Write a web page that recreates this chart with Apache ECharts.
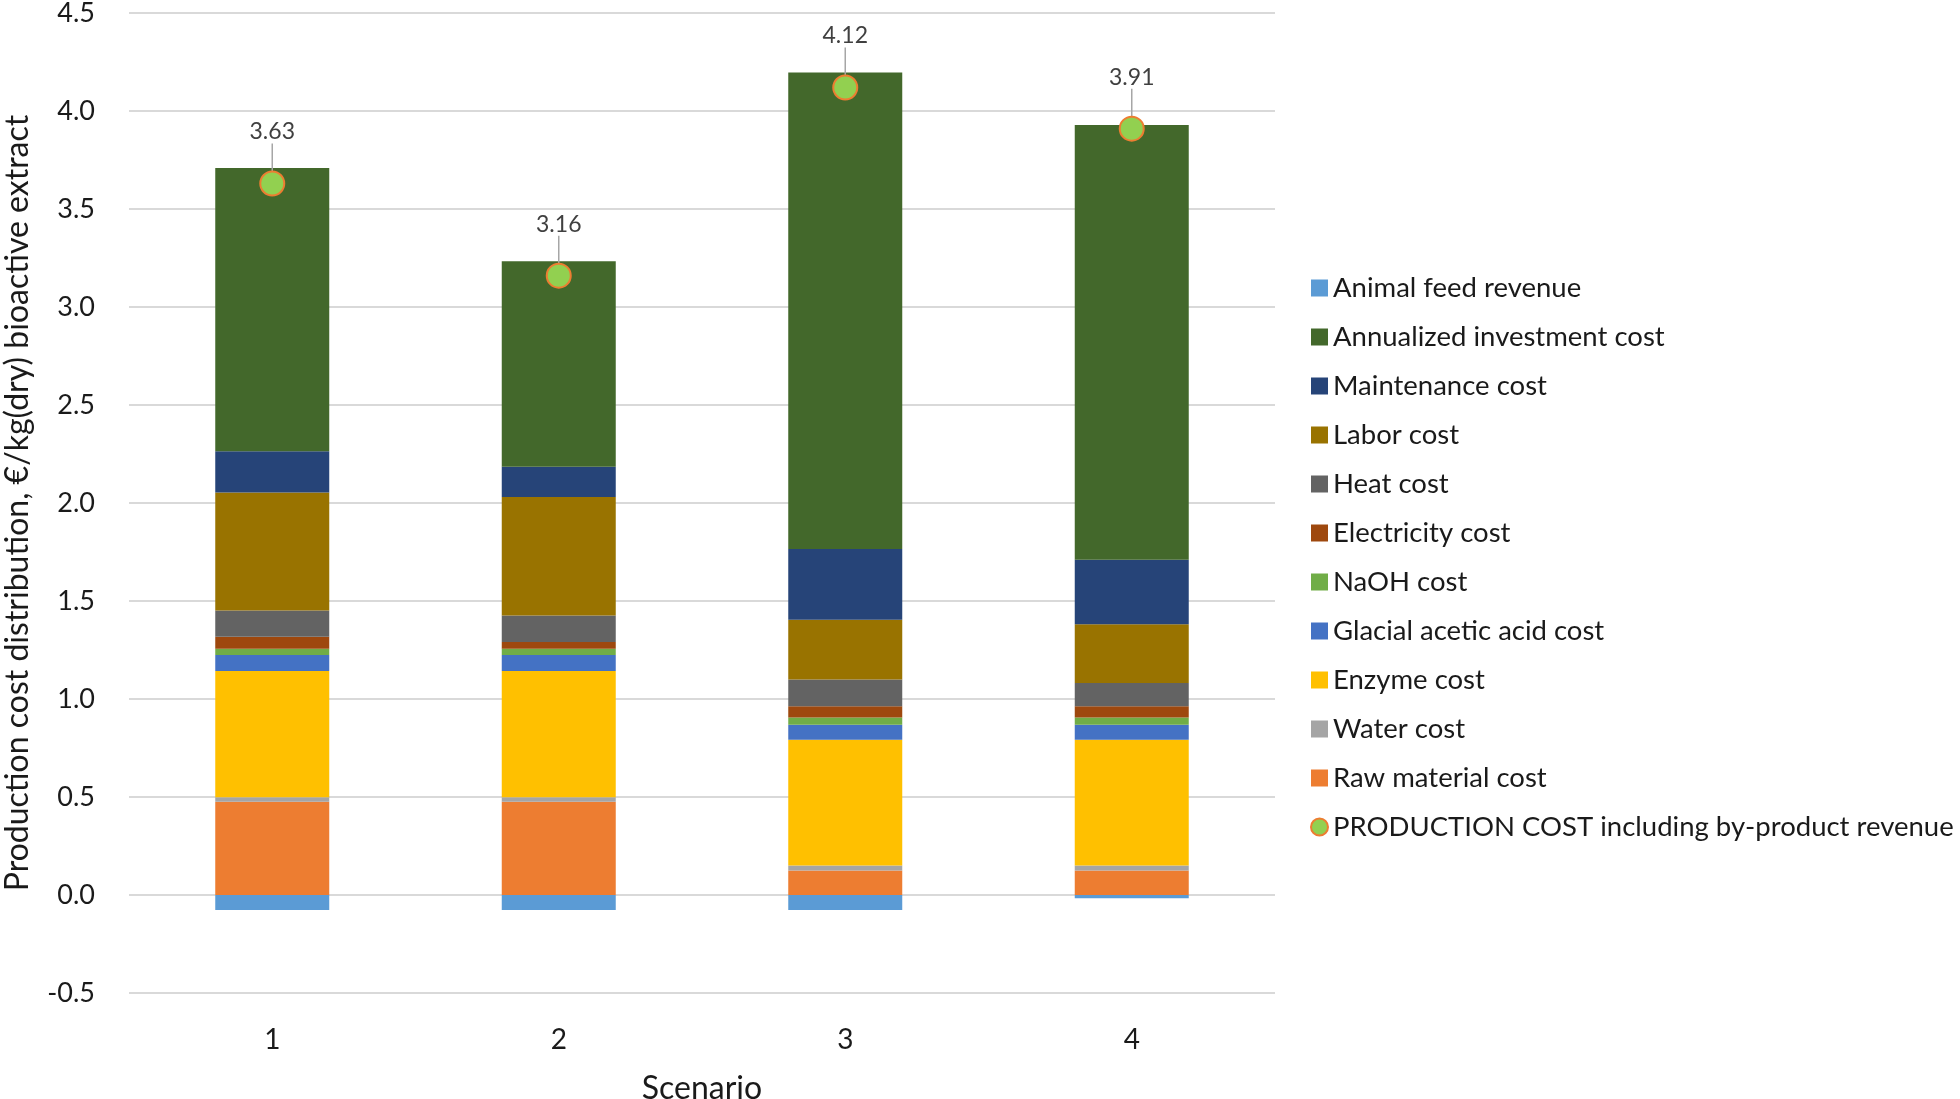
<!DOCTYPE html>
<html>
<head>
<meta charset="utf-8">
<script src="https://cdn.jsdelivr.net/npm/echarts@6/dist/echarts.min.js"></script>
<style>
html,body{margin:0;padding:0;background:#fff;}
#chart{width:1960px;height:1099px;}
</style>
</head>
<body>
<div id="chart"></div>
<script>
const scenarios = ['1', '2', '3', '4'];
const animalFeedRevenue = [-0.076, -0.076, -0.076, -0.017];
const rawMaterialCost = [0.476, 0.476, 0.125, 0.125];
const waterCost = [0.023, 0.023, 0.026, 0.026];
const enzymeCost = [0.644, 0.644, 0.641, 0.641];
const glacialAceticAcidCost = [0.082, 0.082, 0.076, 0.076];
const naohCost = [0.031, 0.031, 0.037, 0.037];
const electricityCost = [0.062, 0.035, 0.058, 0.058];
const heatCost = [0.133, 0.135, 0.137, 0.118];
const laborCost = [0.602, 0.604, 0.304, 0.300];
const maintenanceCost = [0.211, 0.155, 0.361, 0.329];
const annualizedInvestmentCost = [1.445, 1.048, 2.431, 2.218];
const productionCost = [3.63, 3.16, 4.12, 3.91];
const yTicks = [-0.5, 0, 0.5, 1, 1.5, 2, 2.5, 3, 3.5, 4, 4.5];

const FONT = 'Lato';
const stackDefs = [
  ['Raw material cost', rawMaterialCost, '#ED7D31'],
  ['Water cost', waterCost, '#A5A5A5'],
  ['Enzyme cost', enzymeCost, '#FFC000'],
  ['Glacial acetic acid cost', glacialAceticAcidCost, '#4472C4'],
  ['NaOH cost', naohCost, '#70AD47'],
  ['Electricity cost', electricityCost, '#9E480E'],
  ['Heat cost', heatCost, '#636363'],
  ['Labor cost', laborCost, '#997300'],
  ['Maintenance cost', maintenanceCost, '#264478'],
  ['Annualized investment cost', annualizedInvestmentCost, '#43682B'],
  ['Animal feed revenue', animalFeedRevenue, '#5B9BD5']
];
const prodName = 'PRODUCTION COST including by-product revenue';

const series = stackDefs.map(([name, data, color]) => ({
  name: name,
  type: 'bar',
  stack: 'cost',
  data: data,
  barWidth: 114,
  itemStyle: { color: color },
  emphasis: { disabled: true },
  z: 2
}));
series.push({
  name: prodName,
  type: 'scatter',
  data: productionCost,
  symbol: 'circle',
  symbolSize: 24,
  itemStyle: { color: '#92D050', borderColor: '#ED7D31', borderWidth: 2, opacity: 1 },
  label: {
    show: true,
    position: 'top',
    distance: 5,
    color: '#404040',
    fontFamily: FONT,
    fontSize: 23,
    formatter: p => p.value.toFixed(2)
  },
  labelLayout: { dy: -22 },
  labelLine: { show: true, lineStyle: { color: '#A6A6A6', width: 1.5 } },
  z: 5
});

const chart = echarts.init(document.getElementById('chart'), null, { renderer: 'canvas' });
chart.setOption({
  animation: false,
  backgroundColor: '#fff',
  textStyle: { fontFamily: FONT },
  grid: { left: 129, right: 685, top: 13, bottom: 106, containLabel: false, outerBoundsMode: 'none' },
  legend: {
    orient: 'vertical',
    left: 1305,
    top: 268,
    itemWidth: 17,
    itemHeight: 17,
    itemGap: 19,
    data: [
      { name: 'Animal feed revenue', icon: 'rect' },
      { name: 'Annualized investment cost', icon: 'rect' },
      { name: 'Maintenance cost', icon: 'rect' },
      { name: 'Labor cost', icon: 'rect' },
      { name: 'Heat cost', icon: 'rect' },
      { name: 'Electricity cost', icon: 'rect' },
      { name: 'NaOH cost', icon: 'rect' },
      { name: 'Glacial acetic acid cost', icon: 'rect' },
      { name: 'Enzyme cost', icon: 'rect' },
      { name: 'Water cost', icon: 'rect' },
      { name: 'Raw material cost', icon: 'rect' },
      { name: prodName, icon: 'circle' }
    ],
    textStyle: { fontFamily: FONT, fontSize: 27.5, color: '#1a1a1a', lineHeight: 30, padding: [0, 0, 0, 0] }
  },
  xAxis: {
    type: 'category',
    data: scenarios,
    axisLine: { show: false },
    axisTick: { show: false },
    axisLabel: { fontFamily: FONT, fontSize: 28, color: '#1a1a1a', margin: 33 },
    name: 'Scenario',
    nameLocation: 'middle',
    nameGap: 80,
    nameTextStyle: { fontFamily: FONT, fontSize: 32, color: '#1a1a1a' }
  },
  yAxis: {
    type: 'value',
    min: yTicks[0],
    max: yTicks[yTicks.length - 1],
    interval: 0.5,
    axisLine: { show: false },
    axisTick: { show: false },
    splitLine: { lineStyle: { color: '#D9D9D9', width: 2 } },
    axisLabel: { fontFamily: FONT, fontSize: 27, color: '#1a1a1a', margin: 34, formatter: v => v.toFixed(1) },
    name: 'Production cost distribution, \u20AC/kg(dry) bioactive extract',
    nameLocation: 'middle',
    nameGap: 95,
    nameTextStyle: { fontFamily: FONT, fontSize: 32, color: '#1a1a1a' }
  },
  series: series
});
</script>
</body>
</html>
